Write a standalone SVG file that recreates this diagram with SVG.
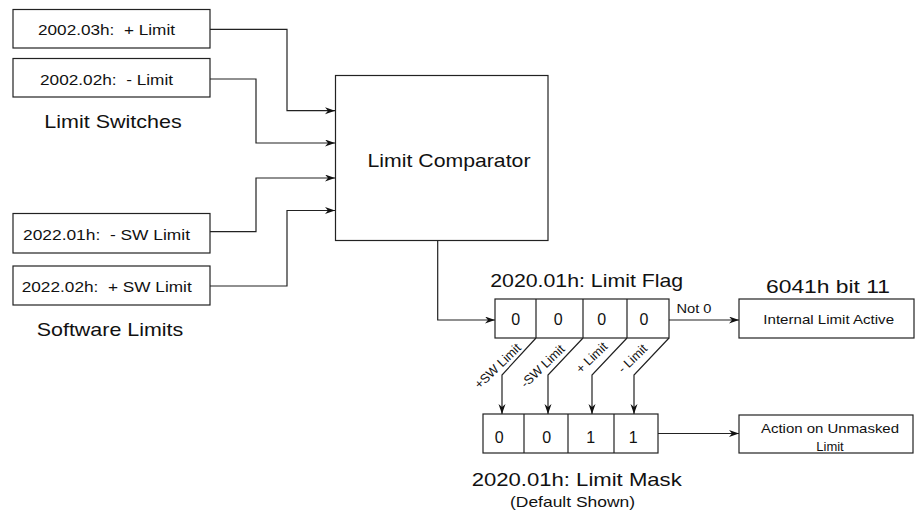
<svg xmlns="http://www.w3.org/2000/svg" width="917" height="517" viewBox="0 0 917 517">
<style>
.box{fill:#fff;stroke:#222;stroke-width:1.2}
.ln{fill:none;stroke:#222;stroke-width:1.2}
text{font-family:"Liberation Sans",Arial,sans-serif;fill:#111;text-anchor:middle;white-space:pre}
.t15{font-size:15px}
.t19{font-size:19px}
.t13{font-size:13px}
.t16{font-size:16px}
.t12{font-size:12.8px}
</style>
<defs>
<marker id="arr" markerUnits="userSpaceOnUse" markerWidth="11" markerHeight="8" refX="10" refY="3.5" orient="auto">
<path d="M0,0 L10,3.5 L0,7 L3,3.5 z" fill="#111"/>
</marker>
</defs>
<rect width="917" height="517" fill="#fff"/>
<g id="connectors">
<path class="ln" marker-end="url(#arr)" d="M210,29.3 H287 V110.7 H335"/>
<path class="ln" marker-end="url(#arr)" d="M210,79 H256 V143 H335"/>
<path class="ln" marker-end="url(#arr)" d="M210,231.7 H256 V178 H335"/>
<path class="ln" marker-end="url(#arr)" d="M210,286 H287 V210.5 H335"/>
<path class="ln" marker-end="url(#arr)" d="M437.7,240.5 V320 H495"/>
<path class="ln" marker-end="url(#arr)" d="M669,320 H739"/>
<path class="ln" marker-end="url(#arr)" d="M536,338 L502,375 V414"/>
<path class="ln" marker-end="url(#arr)" d="M583,338 L548,375 V414"/>
<path class="ln" marker-end="url(#arr)" d="M627,338 L592,375 V414"/>
<path class="ln" marker-end="url(#arr)" d="M669,338 L634,375 V414"/>
<path class="ln" marker-end="url(#arr)" d="M658,433.5 H739"/>
<text class="t13" x="694" y="313" textLength="35" lengthAdjust="spacingAndGlyphs">Not 0</text>
<text class="t12" transform="translate(497.5,366) rotate(-44)" x="0" y="4.5">+SW Limit</text>
<text class="t12" transform="translate(542.5,366) rotate(-44)" x="0" y="4.5">-SW Limit</text>
<text class="t12" transform="translate(591.5,357.5) rotate(-44)" x="0" y="4.5">+ Limit</text>
<text class="t12" transform="translate(632.5,358.5) rotate(-44)" x="0" y="4.5">- Limit</text>
</g>
<g id="plus-limit">
<rect class="box" x="13" y="9.5" width="197" height="38.5"/>
<text class="t15" x="106.5" y="35" textLength="137" lengthAdjust="spacingAndGlyphs">2002.03h:  + Limit</text>
</g>
<g id="minus-limit">
<rect class="box" x="13" y="58.5" width="197" height="38.5"/>
<text class="t15" x="106.5" y="84.5" textLength="133" lengthAdjust="spacingAndGlyphs">2002.02h:  - Limit</text>
</g>
<g id="limit-switches-label">
<text class="t19" x="113" y="128" textLength="137.4" lengthAdjust="spacingAndGlyphs">Limit Switches</text>
</g>
<g id="minus-sw-limit">
<rect class="box" x="13" y="213.5" width="197" height="39.5"/>
<text class="t15" x="106.5" y="240" textLength="167" lengthAdjust="spacingAndGlyphs">2022.01h:  - SW Limit</text>
</g>
<g id="plus-sw-limit">
<rect class="box" x="13" y="266" width="197" height="39"/>
<text class="t15" x="106.7" y="292" textLength="170" lengthAdjust="spacingAndGlyphs">2022.02h:  + SW Limit</text>
</g>
<g id="software-limits-label">
<text class="t19" x="110" y="336" textLength="146.6" lengthAdjust="spacingAndGlyphs">Software Limits</text>
</g>
<g id="limit-comparator">
<rect class="box" x="335.5" y="75.5" width="212.5" height="165"/>
<text class="t19" x="449" y="166.5" textLength="163" lengthAdjust="spacingAndGlyphs">Limit Comparator</text>
</g>
<g id="limit-flag">
<text class="t19" x="586.7" y="287" textLength="193" lengthAdjust="spacingAndGlyphs">2020.01h: Limit Flag</text>
<rect class="box" x="495" y="299" width="174" height="39"/>
<path class="ln" d="M536,299 V338 M583,299 V338 M627,299 V338"/>
<text class="t16" x="515.7" y="325">0</text>
<text class="t16" x="558.3" y="325">0</text>
<text class="t16" x="601.7" y="325">0</text>
<text class="t16" x="644" y="325">0</text>
</g>
<g id="internal-limit-active">
<text class="t19" x="828" y="292.5" textLength="124" lengthAdjust="spacingAndGlyphs">6041h bit 11</text>
<rect class="box" x="739" y="299" width="175" height="39"/>
<text class="t13" x="828.7" y="324" textLength="130.7" lengthAdjust="spacingAndGlyphs">Internal Limit Active</text>
</g>
<g id="limit-mask">
<rect class="box" x="483" y="414" width="175" height="39"/>
<path class="ln" d="M524,414 V453 M568,414 V453 M614,414 V453"/>
<text class="t16" x="499.3" y="443">0</text>
<text class="t16" x="546.7" y="443">0</text>
<text class="t16" x="590.7" y="443">1</text>
<text class="t16" x="633.3" y="443">1</text>
<text class="t19" x="576.7" y="486" textLength="210" lengthAdjust="spacingAndGlyphs">2020.01h: Limit Mask</text>
<text class="t15" x="572.5" y="507" textLength="125" lengthAdjust="spacingAndGlyphs">(Default Shown)</text>
</g>
<g id="action-unmasked">
<rect class="box" x="739" y="415" width="174" height="38"/>
<text class="t13" x="830" y="433" textLength="138" lengthAdjust="spacingAndGlyphs">Action on Unmasked</text>
<text class="t13" x="830" y="450.5">Limit</text>
</g>
</svg>
